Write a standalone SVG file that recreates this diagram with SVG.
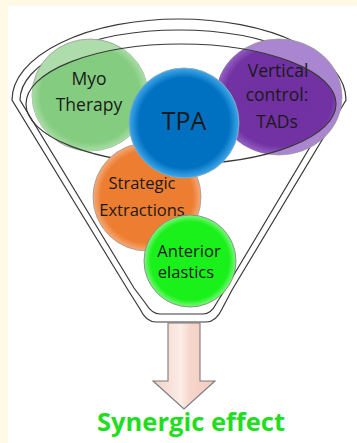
<svg xmlns="http://www.w3.org/2000/svg" width="357" height="443" viewBox="0 0 357 443">
<style>
.lbl{font-family:"Open Sans","Liberation Sans",sans-serif;fill:#1a1a1a;text-anchor:middle}
.line{fill:none;stroke:#3a3a3a;stroke-width:1.2}
.rim{fill:none;stroke:#777;stroke-width:0.9}
</style>
<defs>
<clipPath id="open"><ellipse cx="181" cy="104" rx="155" ry="60"/></clipPath>
<radialGradient id="gBlue" cx="0.5" cy="0.5" r="0.5"><stop offset="0" stop-color="#0070C0"/><stop offset="0.82" stop-color="#0070C0"/><stop offset="1" stop-color="#3FA8EA"/></radialGradient>
<radialGradient id="gOrange" cx="0.5" cy="0.5" r="0.5"><stop offset="0" stop-color="#ED7D31"/><stop offset="0.85" stop-color="#ED7D31"/><stop offset="1" stop-color="#F6AA78"/></radialGradient>
<radialGradient id="gLime" cx="0.5" cy="0.5" r="0.5"><stop offset="0" stop-color="#1AF01A"/><stop offset="0.85" stop-color="#1AF01A"/><stop offset="1" stop-color="#7CF87C"/></radialGradient>
<radialGradient id="gGreen" cx="0.5" cy="0.5" r="0.5"><stop offset="0" stop-color="#84CC80"/><stop offset="0.85" stop-color="#84CC80"/><stop offset="1" stop-color="#A9DDA6"/></radialGradient>
<radialGradient id="gPurple" cx="0.5" cy="0.5" r="0.5"><stop offset="0" stop-color="#7030A0"/><stop offset="0.85" stop-color="#7232A3"/><stop offset="1" stop-color="#9560C2"/></radialGradient>
<linearGradient id="gArrow" x1="0" y1="0" x2="1" y2="0"><stop offset="0" stop-color="#F4CFC3"/><stop offset="0.45" stop-color="#FCEDE8"/><stop offset="0.6" stop-color="#F6D6CC"/><stop offset="1" stop-color="#F2CABD"/></linearGradient>
</defs>
<rect x="0" y="0" width="357" height="443" fill="#FFF9E6"/>
<rect x="8" y="6" width="349" height="437" fill="#FFFFFF"/>

<g id="funnel">
<path class="line" d="M12,100 A167,81 0 0 1 346,100 L232,290 L222,309 Q216,322 206,322 L156,322 Q146,322 140,309 L128,290 Z" fill="#fff"/>
<path class="line" d="M20,100 A159,70 0 0 1 338,100 L226,288 L216,304 Q211,314 203,314 L160,314 Q152,314 146,304 L134,288 Z"/>
</g>

<g id="node-myo">
<ellipse cx="90" cy="95" rx="58" ry="56" fill="#AEDDAB" stroke="#999" stroke-width="0.8"/>
<ellipse cx="90" cy="95" rx="58" ry="56" fill="url(#gGreen)" clip-path="url(#open)"/>
<text class="lbl" font-size="17.5" x="89" y="85">Myo</text>
<text class="lbl" font-size="17.5" x="89" y="111">Therapy</text>
</g>

<g id="node-vertical">
<ellipse cx="279" cy="97" rx="63" ry="58" fill="#A986CF" stroke="#999" stroke-width="0.8"/>
<ellipse cx="279" cy="97" rx="63" ry="58" fill="url(#gPurple)" clip-path="url(#open)"/>
<text class="lbl" font-size="17.5" x="278" y="77">Vertical</text>
<text class="lbl" font-size="17.5" x="277" y="101">control:</text>
<text class="lbl" font-size="17.5" x="277" y="128">TADs</text>
</g>

<g id="rim-opening">
<ellipse class="line" cx="181" cy="104" rx="155" ry="60"/>
</g>

<g id="node-strategic">
<circle cx="147" cy="197" r="54" fill="url(#gOrange)" stroke="#999" stroke-width="0.8"/>
<text class="lbl" font-size="16.5" x="142" y="189">Strategic</text>
<text class="lbl" font-size="16.5" x="142" y="216">Extractions</text>
</g>

<g id="node-anterior">
<circle cx="190" cy="261" r="46" fill="url(#gLime)" stroke="#888" stroke-width="0.9"/>
<text class="lbl" font-size="16.5" x="189" y="257">Anterior</text>
<text class="lbl" font-size="16.5" x="186" y="278">elastics</text>
</g>

<g id="node-tpa">
<circle cx="184" cy="123" r="55" fill="url(#gBlue)" stroke="#8ab" stroke-width="0.9"/>
<text class="lbl" font-size="25" x="184" y="130" fill="#111">TPA</text>
</g>

<g id="connectors">
<path d="M168,323 L200,323 L200,381 L215,381 L184,409 L153,381 L168,381 Z" fill="url(#gArrow)" stroke="#7a7a7a" stroke-width="1.1" stroke-linejoin="miter"/>
</g>

<g id="result">
<text x="191" y="431" font-family="'Open Sans','Liberation Sans',sans-serif" font-weight="bold" font-size="25" fill="#22DD22" text-anchor="middle" textLength="188" lengthAdjust="spacingAndGlyphs">Synergic effect</text>
</g>
</svg>
